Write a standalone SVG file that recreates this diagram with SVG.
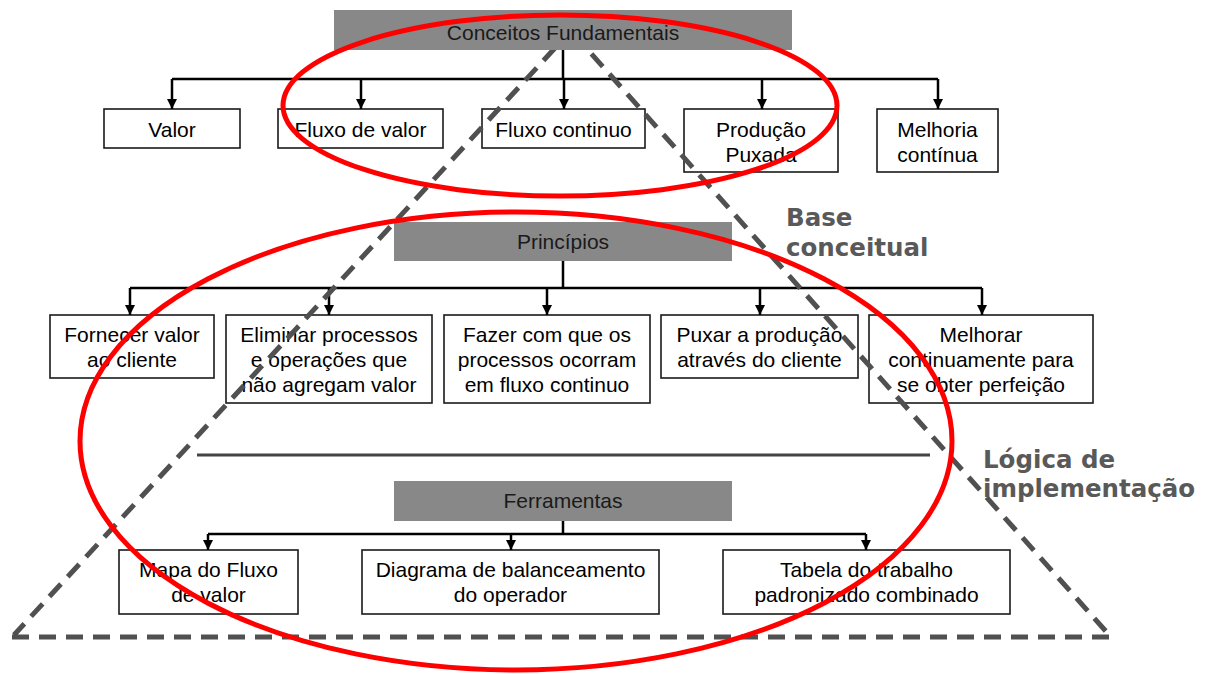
<svg xmlns="http://www.w3.org/2000/svg" width="1207" height="674" viewBox="0 0 1207 674">
<style>
.box{fill:#fff;stroke:#1a1a1a;stroke-width:1.6}
.title{fill:#888888}
.t{font-family:"Liberation Sans",Arial,sans-serif;font-size:21px;fill:#000;text-anchor:middle}
.tt{font-family:"Liberation Sans",Arial,sans-serif;font-size:21px;fill:#1a1a1a;text-anchor:middle}
.lbl{font-family:"DejaVu Sans",Verdana,sans-serif;font-weight:bold;font-size:24.5px;fill:#595959}
.c{fill:none;stroke:#000;stroke-width:2.5}
.a{fill:none;stroke:#000;stroke-width:2.5;marker-end:url(#arr)}
.dash{fill:none;stroke:#505050;stroke-width:5;stroke-dasharray:17 10}
.red{fill:none;stroke:#ff0000;stroke-width:5}
</style>
<defs>
<marker id="arr" markerUnits="userSpaceOnUse" markerWidth="10" markerHeight="10" refX="10" refY="5" orient="auto">
<path d="M0,0 L10,5 L0,10 z" fill="#000"/>
</marker>
</defs>
<rect width="1207" height="674" fill="#fff"/>

<g id="n-valor"><rect class="box" x="104" y="109" width="136" height="39"/><text class="t" x="172" y="137">Valor</text></g>
<g id="n-fluxo-valor"><rect class="box" x="278" y="109" width="165" height="39"/><text class="t" x="360.5" y="137">Fluxo de valor</text></g>
<g id="n-fluxo-continuo"><rect class="box" x="482" y="109" width="163" height="39"/><text class="t" x="563.5" y="137">Fluxo continuo</text></g>
<g id="n-producao"><rect class="box" x="684" y="109" width="154" height="63"/><text class="t" x="761" y="137">Produção</text><text class="t" x="761" y="162">Puxada</text></g>
<g id="n-melhoria"><rect class="box" x="877" y="109" width="121" height="63"/><text class="t" x="937.5" y="137">Melhoria</text><text class="t" x="937.5" y="162">contínua</text></g>

<g id="n-fornecer"><rect class="box" x="50" y="315" width="164" height="63"/><text class="t" x="132" y="342">Fornecer valor</text><text class="t" x="132" y="367">ao cliente</text></g>
<g id="n-eliminar"><rect class="box" x="226" y="315" width="206" height="88"/><text class="t" x="329" y="342">Eliminar processos</text><text class="t" x="329" y="367">e operações que</text><text class="t" x="329" y="392">não agregam valor</text></g>
<g id="n-fazer"><rect class="box" x="444" y="315" width="206" height="88"/><text class="t" x="547" y="342">Fazer com que os</text><text class="t" x="547" y="367">processos ocorram</text><text class="t" x="547" y="392">em fluxo continuo</text></g>
<g id="n-puxar"><rect class="box" x="661" y="315" width="197" height="63"/><text class="t" x="759.5" y="342">Puxar a produção</text><text class="t" x="759.5" y="367">através do cliente</text></g>
<g id="n-melhorar"><rect class="box" x="869" y="315" width="224" height="88"/><text class="t" x="981" y="342">Melhorar</text><text class="t" x="981" y="367">continuamente para</text><text class="t" x="981" y="392">se obter perfeição</text></g>

<g id="n-mapa"><rect class="box" x="119" y="550" width="179" height="64"/><text class="t" x="208.5" y="577">Mapa do Fluxo</text><text class="t" x="208.5" y="602">de valor</text></g>
<g id="n-diagrama"><rect class="box" x="362" y="550" width="297" height="64"/><text class="t" x="510.5" y="577">Diagrama de balanceamento</text><text class="t" x="510.5" y="602">do operador</text></g>
<g id="n-tabela"><rect class="box" x="723" y="550" width="287" height="64"/><text class="t" x="866.5" y="577">Tabela do trabalho</text><text class="t" x="866.5" y="602">padronizado combinado</text></g>

<g id="connectors">
<path class="c" d="M563 50 V79 M172 79 H938"/>
<path class="a" d="M172 79 V109"/><path class="a" d="M361 79 V109"/><path class="a" d="M564 79 V109"/><path class="a" d="M762 79 V109"/><path class="a" d="M938 79 V109"/>
<path class="c" d="M563 261 V288 M130 288 H982"/>
<path class="a" d="M130 288 V315"/><path class="a" d="M329 288 V315"/><path class="a" d="M547 288 V315"/><path class="a" d="M760 288 V315"/><path class="a" d="M982 288 V315"/>
<path class="c" d="M563 521 V534 M208 534 H866"/>
<path class="a" d="M208 534 V550"/><path class="a" d="M511 534 V550"/><path class="a" d="M866 534 V550"/>
</g>

<g id="separator"><line x1="197" y1="455" x2="930" y2="455" stroke="#444" stroke-width="3"/></g>

<g id="pyramid"><path class="dash" d="M555 48 L14 635 M12 637 H1111 L588 50"/></g>

<g id="n-conceitos"><rect class="title" x="334" y="10" width="458" height="40"/><text class="tt" x="563" y="40">Conceitos Fundamentais</text></g>
<g id="n-principios"><rect class="title" x="394" y="222" width="338" height="39"/><text class="tt" x="563" y="249">Princípios</text></g>
<g id="n-ferramentas"><rect class="title" x="394" y="481" width="338" height="40"/><text class="tt" x="563" y="508">Ferramentas</text></g>

<g id="labels">
<text class="lbl" x="786" y="226">Base</text>
<text class="lbl" x="786" y="256">conceitual</text>
<text class="lbl" x="983" y="468">Lógica de</text>
<text class="lbl" x="983" y="497">implementação</text>
</g>

<g id="highlights">
<ellipse class="red" cx="560" cy="105.5" rx="277" ry="90.5"/>
<ellipse class="red" cx="516" cy="441" rx="436" ry="229"/>
</g>
</svg>
